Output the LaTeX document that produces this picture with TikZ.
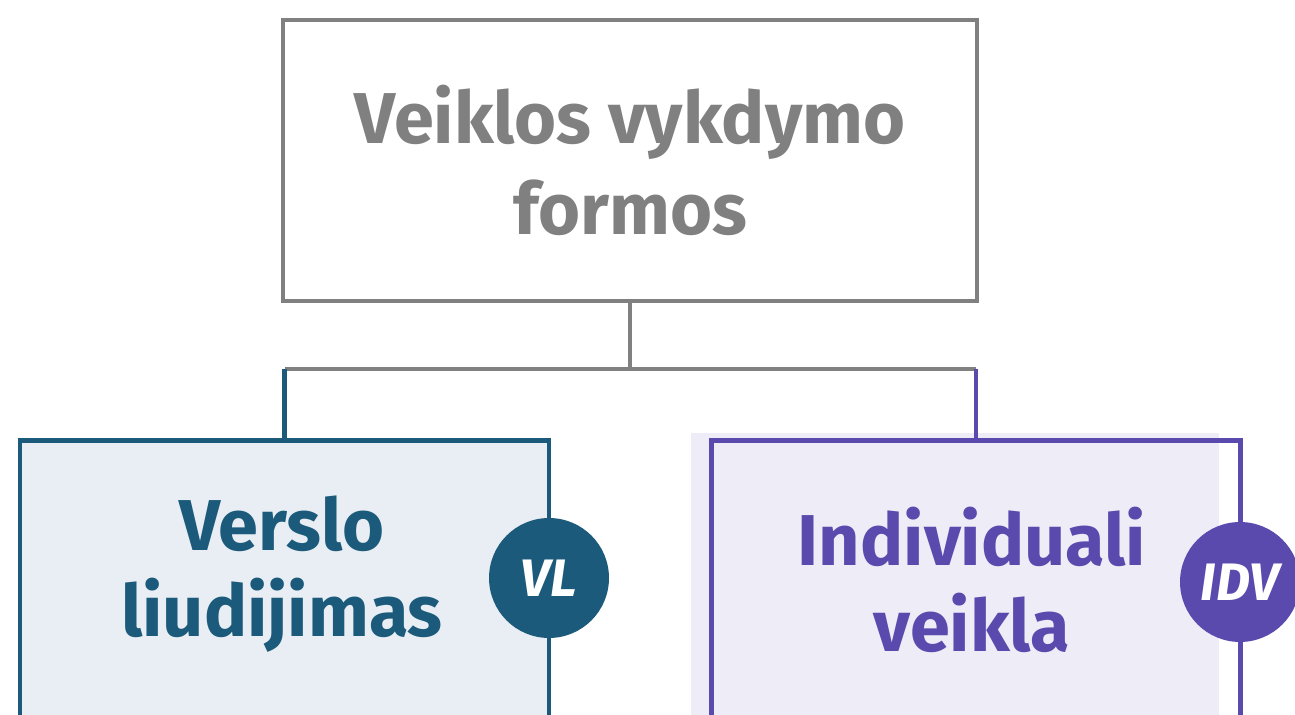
\documentclass[tikz,border=0pt]{standalone}
\usepackage{fontspec}
\setmainfont{Fira Sans}
\usepackage{tikz}
\usetikzlibrary{positioning}

\definecolor{vlblue}{HTML}{1B5A7A}
\definecolor{vlfill}{HTML}{E8EEF3}
\definecolor{idvpurple}{HTML}{5B4AAE}
\definecolor{idvfill}{HTML}{EEECF7}
\definecolor{topgray}{HTML}{808080}

\begin{document}
\begin{tikzpicture}[
        x=0.02cm, y=-0.02cm,
        topbox/.style={draw=topgray, line width=2.6pt, minimum width=13.88cm, minimum height=5.62cm},
        formbox/.style={line width=2.6pt, minimum width=10.58cm, minimum height=7cm, anchor=north},
        boxtext/.style={align=center, font=\fontsize{41}{49}\selectfont\bfseries},
        badge/.style={circle, minimum size=2.4cm, inner sep=0pt, text=white, font=\fontsize{30}{30}\selectfont\bfseries\itshape},
        link/.style={line width=2.6pt},
    ]
    \useasboundingbox (0,0) rectangle (1295,715);
    \clip (0,0) rectangle (1295,715);

    %Top box
    \node [topbox, boxtext, text=topgray, font=\fontsize{41}{52}\selectfont\bfseries] (top) at (630,160.5) {Veiklos vykdymo\\formos};

    %Left form: verslo liudijimas
    \node [formbox, draw=vlblue, fill=vlfill] (vl) at (284.5,438) {};
    \node [boxtext, text=vlblue] (vltext) at (282,574) {Verslo\\liudijimas};
    \node [badge, fill=vlblue] (vlbadge) at (549,578) {VL};

    %Right form: individuali veikla (fill sits a bit to the left)
    \fill [idvfill] (691,433) rectangle (1219,800);
    \node [formbox, draw=idvpurple] (idv) at (976,438) {};
    \node [boxtext, text=idvpurple] (idvtext) at (972,580) {Individuali\\veikla};
    \node [badge, fill=idvpurple] (idvbadge) at (1240,582) {IDV};

    %Connectors
    \coordinate (split) at (top.south |- 0,369);
    \coordinate (lsplit) at (vl.north |- split);
    \coordinate (rsplit) at (idv.north |- split);
    \draw [link, topgray] (top.south) -- (split);
    \draw [link, topgray] (lsplit) -- (rsplit);
    \draw [link, vlblue] (lsplit) -- (vl.north);
    \draw [link, idvpurple] (rsplit) -- (idv.north);
\end{tikzpicture}
\end{document}
